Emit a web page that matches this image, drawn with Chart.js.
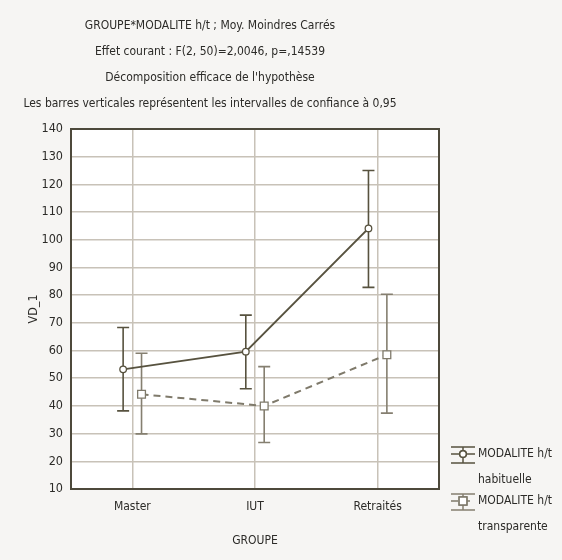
<!DOCTYPE html>
<html>
<head>
<meta charset="utf-8">
<script src="https://cdn.jsdelivr.net/npm/chart.js@4.4.0/dist/chart.umd.min.js"></script>
<style>
  html, body { margin: 0; padding: 0; background: #f6f5f3; }
  canvas { display: block; }
</style>
</head>
<body>
<canvas id="graphique" width="562" height="560"></canvas>
<script>
// données
const categories = ["Master", "IUT", "Retraités"];
const graduationsY = [10, 20, 30, 40, 50, 60, 70, 80, 90, 100, 110, 120, 130, 140];

const habituelle = [53.2, 59.6, 104.1];
const habituelleBas = [38.2, 46.2, 82.8];
const habituelleHaut = [68.3, 72.8, 125.0];

const transparente = [44.2, 40.0, 58.5];
const transparenteBas = [29.9, 26.8, 37.4];
const transparenteHaut = [59.0, 54.2, 80.3];

const titres = [
  "GROUPE*MODALITE h/t ; Moy. Moindres Carrés",
  "Effet courant : F(2, 50)=2,0046, p=,14539",
  "Décomposition efficace de l'hypothèse",
  "Les barres verticales représentent les intervalles de confiance à 0,95"
];

const police = "'Liberation Sans Narrow', 'DejaVu Sans Condensed', sans-serif";
const couleurTexte = "#2c2b28";
const decalage = 0.075; // léger décalage horizontal des deux séries

// fond blanc de la zone de tracé
const fondZone = {
  id: "fondZone",
  beforeDraw(chart) {
    const { ctx, chartArea: a } = chart;
    ctx.save();
    ctx.fillStyle = "#ffffff";
    ctx.fillRect(a.left, a.top, a.right - a.left, a.bottom - a.top);
    ctx.restore();
  }
};

// barres verticales (intervalles de confiance)
const barresErreur = {
  id: "barresErreur",
  beforeDatasetsDraw(chart) {
    const { ctx, scales: { x, y } } = chart;
    chart.data.datasets.forEach(ds => {
      ctx.save();
      ctx.strokeStyle = ds.couleurBarre;
      ctx.lineWidth = 1.6;
      ds.data.forEach((pt, i) => {
        const px = x.getPixelForValue(pt.x);
        const yb = y.getPixelForValue(ds.bas[i]);
        const yh = y.getPixelForValue(ds.haut[i]);
        ctx.beginPath();
        ctx.moveTo(px, yh); ctx.lineTo(px, yb);
        ctx.moveTo(px - 6, yh); ctx.lineTo(px + 6, yh);
        ctx.moveTo(px - 6, yb); ctx.lineTo(px + 6, yb);
        ctx.stroke();
      });
      ctx.restore();
    });
  }
};

// cadre, titres et légende
const habillage = {
  id: "habillage",
  afterDraw(chart) {
    const { ctx, chartArea: a } = chart;
    ctx.save();
    ctx.strokeStyle = "#4d493b";
    ctx.lineWidth = 2;
    ctx.strokeRect(a.left, a.top, a.right - a.left, a.bottom - a.top);

    ctx.fillStyle = couleurTexte;
    ctx.font = "12px " + police;
    ctx.textAlign = "center";
    ctx.textBaseline = "middle";
    titres.forEach((t, i) => ctx.fillText(t, 210, 26 + i * 26));

    // légende
    const entrees = [
      { l1: "MODALITE h/t", l2: "habituelle", y: 454, ds: chart.data.datasets[0] },
      { l1: "MODALITE h/t", l2: "transparente", y: 501, ds: chart.data.datasets[1] }
    ];
    entrees.forEach(e => {
      const cx = 463;
      ctx.strokeStyle = e.ds.couleurBarre;
      ctx.lineWidth = 1.5;
      ctx.setLineDash([]);
      ctx.beginPath();
      ctx.moveTo(cx - 12, e.y - 7); ctx.lineTo(cx + 12, e.y - 7);
      ctx.moveTo(cx - 12, e.y + 9); ctx.lineTo(cx + 12, e.y + 9);
      ctx.moveTo(cx, e.y - 7); ctx.lineTo(cx, e.y + 9);
      ctx.stroke();
      ctx.strokeStyle = e.ds.borderColor;
      ctx.setLineDash(e.ds.borderDash || []);
      ctx.beginPath();
      ctx.moveTo(cx - 12, e.y); ctx.lineTo(cx + 12, e.y);
      ctx.stroke();
      ctx.setLineDash([]);
      Chart.helpers.drawPoint(ctx, {
        pointStyle: e.ds.pointStyle, radius: e.ds.pointRadius,
        borderWidth: 1.3
      }, cx, e.y);
      ctx.fillStyle = "#ffffff";
      ctx.fill();
      ctx.strokeStyle = e.ds.pointBorderColor;
      ctx.stroke();

      ctx.fillStyle = couleurTexte;
      ctx.font = "12px " + police;
      ctx.textAlign = "left";
      ctx.fillText(e.l1, 478, e.y);
      ctx.fillText(e.l2, 478, e.y + 26);
    });
    ctx.restore();
  }
};

const ctx = document.getElementById("graphique").getContext("2d");

new Chart(ctx, {
  type: "line",
  data: {
    datasets: [
      {
        label: "MODALITE h/t habituelle",
        data: habituelle.map((v, i) => ({ x: i - decalage, y: v })),
        bas: habituelleBas,
        haut: habituelleHaut,
        borderColor: "#57523f",
        borderWidth: 2,
        pointStyle: "circle",
        pointRadius: 3.3,
        pointBackgroundColor: "#ffffff",
        pointBorderColor: "#57523f",
        pointBorderWidth: 1.3,
        couleurBarre: "#57523f",
        tension: 0
      },
      {
        label: "MODALITE h/t transparente",
        data: transparente.map((v, i) => ({ x: i + decalage, y: v })),
        bas: transparenteBas,
        haut: transparenteHaut,
        borderColor: "#7f7a6b",
        borderWidth: 2,
        borderDash: [7, 5],
        pointStyle: "rect",
        pointRadius: 5.5,
        pointBackgroundColor: "#ffffff",
        pointBorderColor: "#7f7a6b",
        pointBorderWidth: 1.3,
        couleurBarre: "#857f70",
        tension: 0
      }
    ]
  },
  options: {
    responsive: false,
    animation: false,
    layout: { padding: { left: 0, right: 123, top: 129, bottom: 0 } },
    plugins: {
      legend: { display: false },
      title: { display: false },
      tooltip: { enabled: false }
    },
    scales: {
      x: {
        type: "linear",
        min: -0.5,
        max: 2.5,
        afterBuildTicks: s => { s.ticks = categories.map((c, i) => ({ value: i })); },
        afterFit: s => { s.height = 71; },
        grid: { color: "#c8c2b8", lineWidth: 1.5, drawTicks: false },
        border: { display: false },
        ticks: {
          padding: 11,
          color: couleurTexte,
          font: { family: police, size: 12 },
          callback: v => categories[v]
        },
        title: {
          display: true, text: "GROUPE", color: couleurTexte,
          font: { family: police, size: 12 },
          padding: { top: 0, bottom: 12 }
        }
      },
      y: {
        min: graduationsY[0],
        max: graduationsY[graduationsY.length - 1],
        afterBuildTicks: s => { s.ticks = graduationsY.map(v => ({ value: v })); },
        afterFit: s => { s.width = 71; },
        grid: { color: "#c8c2b8", lineWidth: 1.5, drawTicks: false },
        border: { display: false },
        ticks: {
          padding: 8,
          color: couleurTexte,
          font: { family: police, size: 12.5 }
        },
        title: {
          display: true, text: "VD_1", color: couleurTexte,
          font: { family: police, size: 12.5 },
          padding: { top: 26, bottom: 0 }
        }
      }
    }
  },
  plugins: [fondZone, barresErreur, habillage]
});
</script>
</body>
</html>
